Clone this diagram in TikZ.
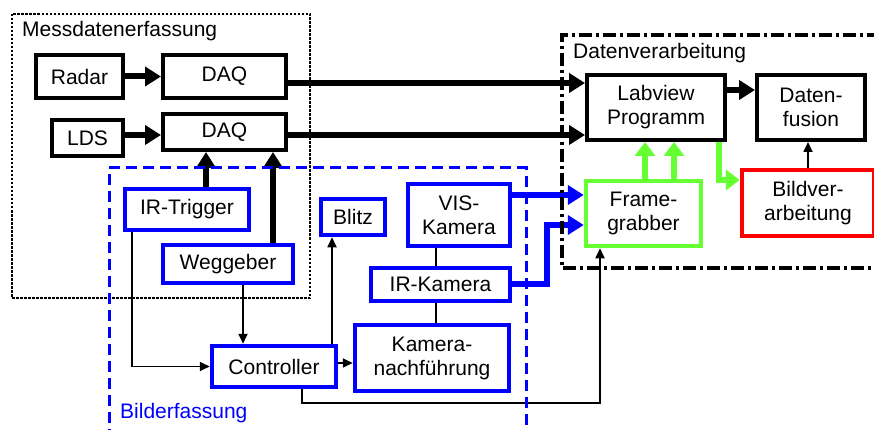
\documentclass[tikz,border=0pt]{standalone}
\usepackage{fontspec}
\setmainfont{Liberation Sans}
\usetikzlibrary{arrows.meta}
\definecolor{myblue}{RGB}{0,0,255}
\definecolor{mygreen}{RGB}{102,255,51}
\definecolor{myred}{RGB}{255,0,0}
\begin{document}
\begin{tikzpicture}[x=1pt,y=-1pt,
  font=\fontsize{21}{24}\selectfont,
  bbox/.style={draw=black, line width=4pt, fill=white, inner sep=0pt, align=center},
  bluebox/.style={bbox, draw=myblue, line width=4.5pt},
  greenbox/.style={bbox, draw=mygreen, line width=4.5pt},
  redbox/.style={bbox, draw=myred, line width=4.5pt},
  thickarr/.style={line width=6pt, -{Triangle[length=16pt,width=19pt]}},
  bluearr/.style={thickarr, color=myblue},
  greenarr/.style={line width=6.5pt, color=mygreen, -{Triangle[length=14pt,width=20pt]}},
  thinarr/.style={line width=1.7pt, -{Triangle[length=10pt,width=9pt]}},
  title/.style={anchor=west, inner sep=0pt}]
\clip (0,0) rectangle (874,430);
\fill[white] (0,0) rectangle (874,430);
% boxes
\node[bbox, minimum width=87pt, minimum height=43pt] (radar) at (79.5,76.5) {Radar};
\node[bbox, minimum width=123pt, minimum height=43pt] (daq1) at (224.5,76.5) {DAQ};
\node[bbox, minimum width=71pt, minimum height=36pt] (lds) at (87.5,138) {LDS};
\node[bbox, minimum width=123pt, minimum height=36pt] (daq2) at (224.5,132) {DAQ};
\node[bbox, minimum width=138pt, minimum height=65pt] (lv) at (656,107.5) {Labview\\Programm};
\node[bbox, minimum width=108pt, minimum height=65pt] (df) at (811,107.5) {Daten-\\fusion};
\node[greenbox, minimum width=115pt, minimum height=65pt] (fg) at (643.5,213.5) {Frame-\\grabber};
\node[redbox, minimum width=132pt, minimum height=66pt] (bv) at (808,203) {Bildver-\\arbeitung};
\node[bluebox, minimum width=124pt, minimum height=41pt] (irt) at (187,209.5) {IR-Trigger};
\node[bluebox, minimum width=130pt, minimum height=38pt] (weg) at (228,264) {Weggeber};
\node[bluebox, minimum width=64pt, minimum height=36pt] (blitz) at (353,217) {Blitz};
\node[bluebox, minimum width=124pt, minimum height=41pt] (ctrl) at (274,366.5) {Controller};
\node[bluebox, minimum width=154pt, minimum height=66pt] (kn) at (432,358) {Kamera-\\nachführung};
\node[bluebox, minimum width=139pt, minimum height=33pt] (irk) at (440.5,284.5) {IR-Kamera};
\node[bluebox, minimum width=102pt, minimum height=62pt] (vis) at (459,215) {VIS-\\Kamera};
% thick black arrows
\draw[thickarr] (radar) -- (daq1);
\draw[thickarr] (lds.east |- 0,135) -- (daq2.west |- 0,135);
\draw[thickarr] (daq1.east |- 0,83) -- (lv.west |- 0,83);
\draw[thickarr] (daq2.east |- 0,135) -- (lv.west |- 0,135);
\draw[thickarr] (lv.east |- 0,90) -- (df.west |- 0,90);
\draw[thickarr] (irt.north -| 206,0) -- (daq2.south -| 206,0);
\draw[thickarr] (weg.north -| 273,0) -- (daq2.south -| 273,0);
% thin arrows
\draw[thinarr] (weg.south -| 243,0) -- (ctrl.north -| 243,0);
\draw[thinarr] (irt.south -| 132,0) |- (ctrl.west);
\draw[thinarr] (ctrl.north -| 332,0) -- (blitz.south -| 332,0);
\draw[thinarr] (ctrl.east |- 0,363) -- (kn.west |- 0,363);
\draw[thinarr] (ctrl.south -| 302,0) -- (302,403) -| (fg.south -| 600,0);
\draw[thinarr] (bv.north -| 808,0) -- (df.south -| 808,0);
\draw[line width=2.2pt] (vis.south -| 436,0) -- (irk.north -| 436,0);
\draw[line width=2.2pt] (irk.south -| 436,0) -- (kn.north -| 436,0);
% blue arrows
\draw[bluearr] (vis.east |- 0,195) -- (fg.west |- 0,195);
\draw[bluearr] (irk.east |- 0,284) -- (547,284) -- (547,225) -- (fg.west |- 0,225);
% green arrows
\draw[greenarr] (fg.north -| 645,0) -- (lv.south -| 645,0);
\draw[greenarr] (fg.north -| 674,0) -- (lv.south -| 674,0);
\draw[greenarr] (lv.south -| 719,0) |- (bv.west |- 0,180);
% frames
\draw[line width=2.5pt, dash pattern=on 2.5pt off 1.5pt] (12,14) rectangle (310,298);
\draw[myblue, line width=3pt, dash pattern=on 11pt off 6pt] (109,440) -- (109,168) -- (526,168) -- (526,440);
\draw[line width=3.5pt, dash pattern=on 13pt off 4pt on 3pt off 4pt] (880,35) -- (562,35) -- (562,268) -- (880,268);
% titles
\node[title] (t1) at (22,31) {Messdatenerfassung};
\node[title, text=myblue] (t2) at (120,413) {Bilderfassung};
\node[title] (t3) at (573,53) {Datenverarbeitung};
\end{tikzpicture}
\end{document}
